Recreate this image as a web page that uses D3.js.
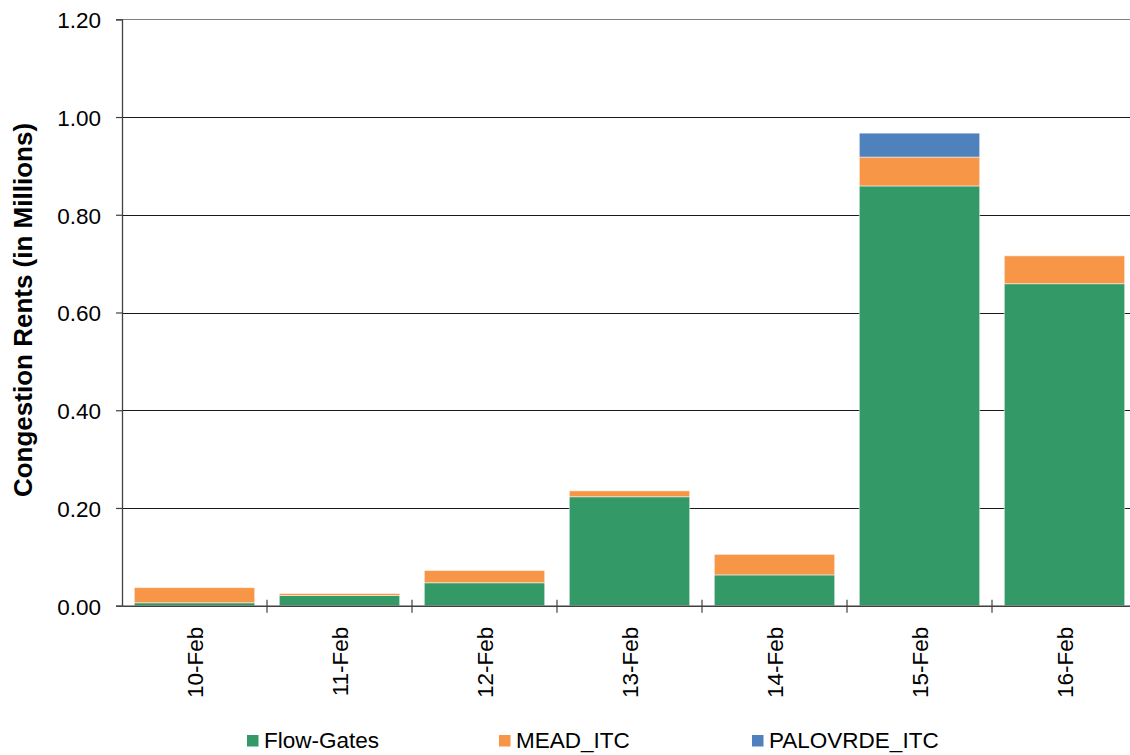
<!DOCTYPE html>
<html><head><meta charset="utf-8">
<script src="https://cdn.jsdelivr.net/npm/d3@7/dist/d3.min.js"></script>
<style>body{margin:0;background:#fff;}svg{display:block;font-family:"Liberation Sans",Arial,sans-serif;}</style>
</head><body>
<svg id="c" width="1130" height="755"></svg>
<script>
const categories = ["10-Feb","11-Feb","12-Feb","13-Feb","14-Feb","15-Feb","16-Feb"];
const seriesNames = ["Flow-Gates","MEAD_ITC","PALOVRDE_ITC"];
const flowGates = [0.006,0.021,0.047,0.223,0.063,0.859,0.659];
const meadITC = [0.031,0.004,0.025,0.012,0.042,0.059,0.057];
const palovrdeITC = [0,0,0,0,0,0.049,0];
const yTicks = [0,0.2,0.4,0.6,0.8,1.0,1.2];
const colors = ["#339966","#F79646","#4F81BD"];

const FONT = "'Liberation Sans',Arial,sans-serif";
const svg = d3.select("#c");
const m = {l:122, t:19.3, r:1137, b:605.7};
const x = d3.scaleBand().domain(categories).range([m.l, m.r]).paddingInner(0.17).paddingOuter(0.085);
const y = d3.scaleLinear().domain([0,1.2]).range([m.b, m.t]);

const rows = categories.map((c,i)=>({cat:c, "Flow-Gates":flowGates[i], "MEAD_ITC":meadITC[i], "PALOVRDE_ITC":palovrdeITC[i]}));
const stack = d3.stack().keys(seriesNames)(rows);

// gridlines
svg.append("g").selectAll("line").data(yTicks.filter(d=>d>0)).join("line")
  .attr("x1", m.l).attr("x2", m.r).attr("y1", d=>Math.round(y(d))+0.5).attr("y2", d=>Math.round(y(d))+0.5)
  .attr("stroke", d=> d===1.2 ? "#808080" : "#1a1a1a").attr("stroke-width", 1.2);

// bars
stack.forEach((s,k)=>{
  svg.append("g").selectAll("rect").data(s.filter(d=>d[1]-d[0]>0)).join("rect")
    .attr("x", d=>x(d.data.cat)).attr("width", x.bandwidth())
    .attr("y", d=>y(d[1])).attr("height", d=>y(d[0])-y(d[1]))
    .attr("fill", colors[k]).attr("stroke","#ffffff").attr("stroke-opacity",0.5).attr("stroke-width",1);
});

// y axis
const ya = svg.append("g").attr("transform",`translate(${m.l},0)`)
  .call(d3.axisLeft(y).tickValues(yTicks).tickFormat(d3.format(".2f")).tickSize(6).tickPadding(15));
ya.select(".domain").attr("stroke","#404040").attr("stroke-width",1.3);
ya.selectAll(".tick line").attr("stroke","#404040").attr("stroke-width",1.2);
ya.selectAll(".tick text").attr("font-size",22.5).attr("fill","#000").attr("font-family",FONT).attr("dy","0.37em");

// x axis
const xa = svg.append("g").attr("transform",`translate(0,${m.b})`)
  .call(d3.axisBottom(x).tickSize(0).tickSizeOuter(0));
xa.select(".domain").attr("stroke","#404040").attr("stroke-width",1.5);
xa.selectAll(".tick text").attr("font-size",22.5).attr("fill","#000")
  .attr("font-family",FONT)
  .attr("transform","rotate(-90)").attr("text-anchor","end")
  .attr("x",-21).attr("y",0).attr("dy","0.36em");
// category separator ticks
const bounds = categories.slice(1).map(c=>x(c) - x.step()*x.paddingInner()/2);
xa.append("g").selectAll("line").data(bounds).join("line")
  .attr("x1",d=>d).attr("x2",d=>d).attr("y1",-6).attr("y2",7)
  .attr("stroke","#404040").attr("stroke-width",1.2);

// y title
svg.append("text").attr("transform",`translate(32,310) rotate(-90)`)
  .attr("text-anchor","middle").attr("font-size",26).attr("font-weight","bold").attr("fill","#000")
  .attr("font-family",FONT)
  .text("Congestion Rents (in Millions)");

// legend
const legX = [247, 499, 752];
const lg = svg.append("g").selectAll("g").data(seriesNames).join("g")
  .attr("transform",(d,i)=>`translate(${legX[i]},735)`);
lg.append("rect").attr("width",11.5).attr("height",11.5).attr("fill",(d,i)=>colors[i]);
lg.append("text").attr("x",17).attr("y",12.5).attr("font-size",22.5).attr("fill","#000").attr("font-family",FONT).text(d=>d);
</script>
</body></html>
